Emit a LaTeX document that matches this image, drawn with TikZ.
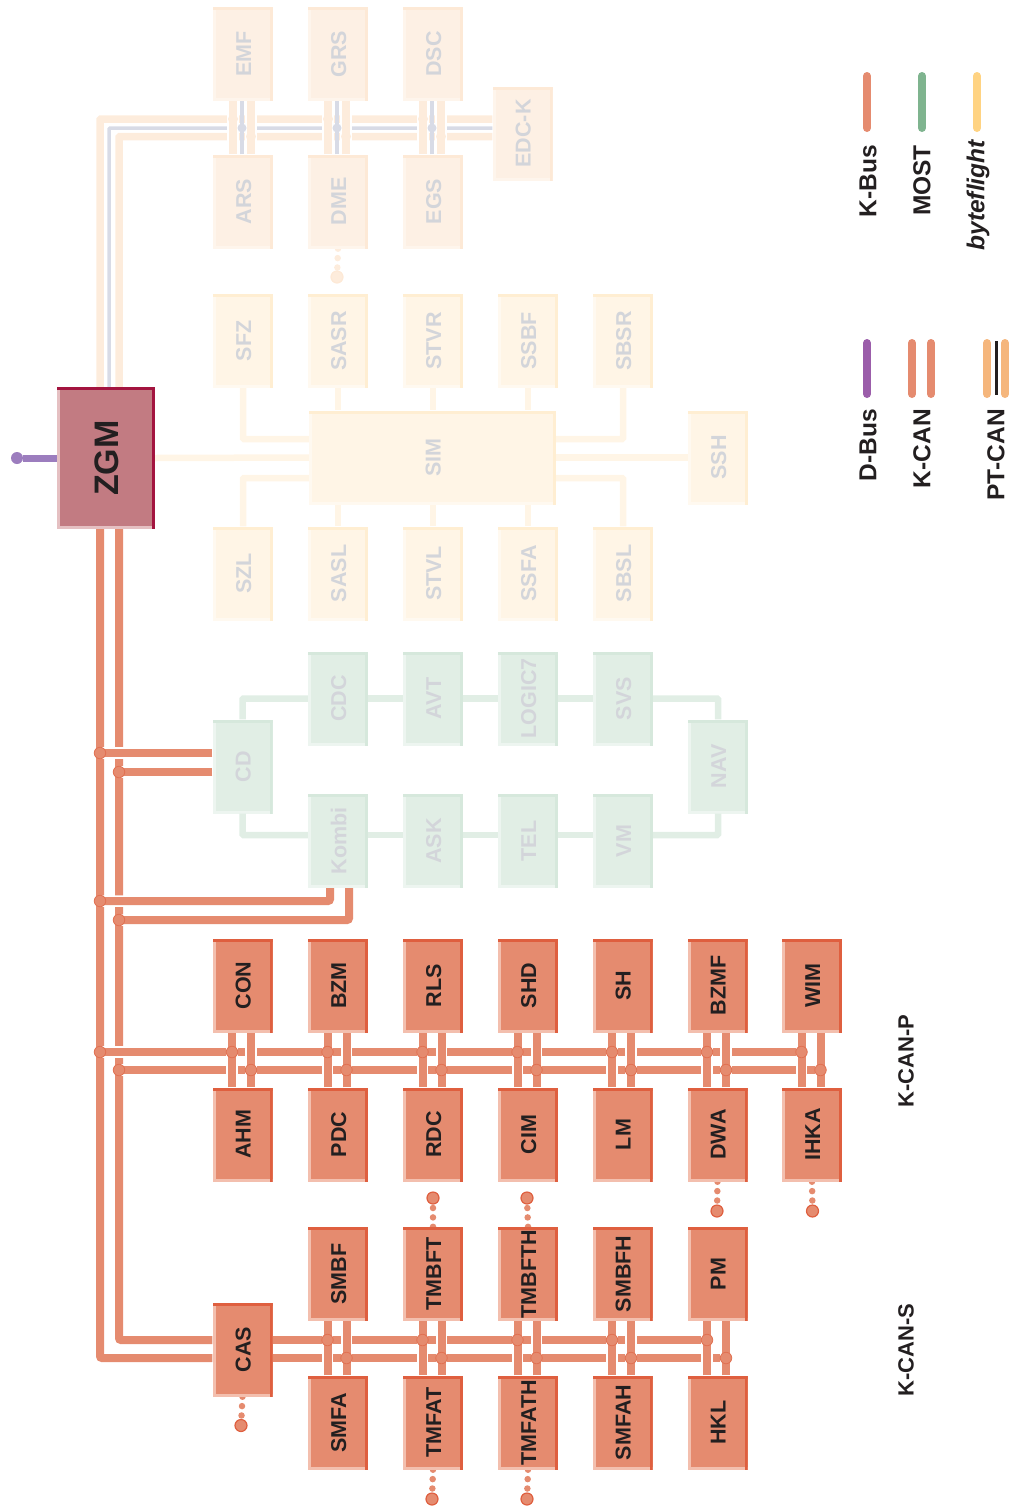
\documentclass[tikz,border=0pt]{standalone}
\usepackage{fontspec}
\setmainfont{Liberation Sans}
\usetikzlibrary{backgrounds}
\definecolor{ink}{HTML}{231F20}
\definecolor{faintink}{HTML}{D3D5DA}
\definecolor{kfill}{HTML}{E58B6F}
\definecolor{kdark}{HTML}{DF5F3F}
\definecolor{klight}{HTML}{F3BFAE}
\definecolor{ptfill}{HTML}{FDF0E4}
\definecolor{ptdark}{HTML}{FDE9D6}
\definecolor{ptlight}{HTML}{FEF5EC}
\definecolor{ptline}{HTML}{FDECDC}
\definecolor{ptwire}{HTML}{D8DBE6}
\definecolor{bffill}{HTML}{FFF5E6}
\definecolor{bfdark}{HTML}{FFEED2}
\definecolor{bflight}{HTML}{FFF9F0}
\definecolor{mfill}{HTML}{E1EEE5}
\definecolor{mdark}{HTML}{D6E8DC}
\definecolor{mlight}{HTML}{EDF5F0}
\definecolor{zfill}{HTML}{C27B82}
\definecolor{zdark}{HTML}{A3143F}
\definecolor{zlight}{HTML}{E5C0C2}
\definecolor{dbus}{HTML}{9C7DBE}
\definecolor{dkey}{HTML}{9B5DAA}
\definecolor{mostkey}{HTML}{7FB48F}
\definecolor{bfkey}{HTML}{FFD382}
\definecolor{ptkey}{HTML}{F5B67C}
\newcommand{\up}[1]{\hspace*{1.5pt}\rotatebox{90}{#1}}
\tikzset{
    unit/.style n args={3}{rectangle, inner sep=0pt, minimum width=60pt,
        minimum height=94pt, fill=#1,
        font=\bfseries\fontsize{21.5pt}{22pt}\selectfont,
        path picture={
            \fill[#3] (path picture bounding box.north west) rectangle
                ([xshift=3pt]path picture bounding box.south west);
            \fill[#3] (path picture bounding box.south west) rectangle
                ([yshift=3pt]path picture bounding box.south east);
            \fill[#2] (path picture bounding box.north west) rectangle
                ([yshift=-3pt]path picture bounding box.north east);
            \fill[#2] ([xshift=-3pt]path picture bounding box.north east) rectangle
                (path picture bounding box.south east);
        }},
    kunit/.style={unit={kfill}{kdark}{klight}, text=ink},
    ptunit/.style={unit={ptfill}{ptdark}{ptlight}, text=faintink},
    bfunit/.style={unit={bffill}{bfdark}{bflight}, text=faintink},
    munit/.style={unit={mfill}{mdark}{mlight}, text=faintink},
    kbus/.style={draw=kfill, line width=8pt, rounded corners=2pt},
    kcross/.style={kbus, preaction={draw=white, line width=11.5pt}},
    ptbus/.style={draw=ptline, line width=7.5pt, rounded corners=1pt},
    ptcross/.style={ptbus, preaction={draw=white, line width=11.5pt}},
    ptthin/.style={draw=ptwire, line width=3.5pt, rounded corners=1pt},
    bfbus/.style={draw=bffill, line width=6.5pt, rounded corners=1pt},
    mbus/.style={draw=mfill, line width=6.5pt, rounded corners=1pt},
    joint/.style={circle, inner sep=0pt, minimum size=11.5pt, fill=kfill, draw=kdark!60!kfill, line width=0.8pt},
    ptjoint/.style={circle, inner sep=0pt, minimum size=10pt, fill=ptline},
    wirejoint/.style={circle, inner sep=0pt, minimum size=9pt, fill=ptwire},
    stubend/.style={circle, inner sep=0pt, minimum size=12pt, fill=kfill, draw=kdark, line width=1.2pt},
    stub/.style={draw=kfill, line width=6.5pt, line cap=round, dash pattern=on 0pt off 9.4pt},
    swatch/.style={line width=8pt, line cap=round},
    busname/.style={rotate=90, anchor=east, font=\bfseries\fontsize{24.5pt}{25pt}\selectfont, text=ink, inner sep=0pt},
    groupname/.style={rotate=90, font=\bfseries\fontsize{22pt}{23pt}\selectfont, text=ink, inner sep=0pt},
}

\begin{document}
\begin{tikzpicture}[x=1pt,y=-1pt]
    \useasboundingbox (0,0) rectangle (1015,1510);

    % central gateway
    \node[unit={zfill}{zdark}{zlight}, minimum width=98pt, minimum height=142pt, text=ink,
        font=\bfseries\fontsize{34pt}{36pt}\selectfont] (ZGM) at (106,458) {\up{ZGM}};
    \node[circle, inner sep=0pt, minimum size=12pt, fill=dbus] (dend) at (17,458) {};
    \draw[draw=dbus, line width=7pt] (ZGM.west) -- (dend);

    % PT-CAN
    \node[ptunit] (EMF) at (243,54) {\up{EMF}};
    \node[ptunit] (ARS) at (243,201.5) {\up{ARS}};
    \node[ptunit] (GRS) at (338,54) {\up{GRS}};
    \node[ptunit] (DME) at (338,201.5) {\up{DME}};
    \node[ptunit] (DSC) at (433,54) {\up{DSC}};
    \node[ptunit] (EGS) at (433,201.5) {\up{EGS}};
    \node[ptunit] (EDCK) at (522.5,133.5) {\up{EDC-K}};
    \node[stubend, fill=ptline, draw=ptdark] (dmeend) at (337,277) {};
    \coordinate (pta) at ([yshift=14.5pt]EDCK.west);
    \coordinate (ptb) at ([yshift=5.5pt]EDCK.west);
    \coordinate (ptc) at ([yshift=-3pt]EDCK.west);
    \draw[ptbus] ([xshift=-6pt]ZGM.north) |- (pta);
    \draw[ptthin] ([xshift=3pt]ZGM.north) |- (ptb);
    \draw[ptbus] ([xshift=13pt]ZGM.north) |- (ptc);
    \foreach \upper/\lower in {EMF/ARS, GRS/DME, DSC/EGS} {
        \draw[ptcross] ([xshift=-10pt]\lower.north) -- ([xshift=-10pt]\upper.south);
        \draw[ptcross] ([xshift=8pt]\lower.north) -- ([xshift=8pt]\upper.south);
        \draw[ptthin] ([xshift=-1pt]\lower.north) -- ([xshift=-1pt]\upper.south);
        \node[ptjoint] (\upper a) at ([xshift=-10pt]\lower.north |- pta) {};
        \node[ptjoint] (\upper c) at ([xshift=8pt]\lower.north |- ptc) {};
        \node[wirejoint] (\upper b) at ([xshift=-1pt]\lower.north |- ptb) {};
    }

    % byteflight
    \node[bfunit] (SFZ) at (243,341) {\up{SFZ}};
    \node[bfunit] (SASR) at (338,341) {\up{SASR}};
    \node[bfunit] (STVR) at (433,341) {\up{STVR}};
    \node[bfunit] (SSBF) at (528,341) {\up{SSBF}};
    \node[bfunit] (SBSR) at (623,341) {\up{SBSR}};
    \node[bfunit, minimum width=247pt] (SIM) at (432.5,457.5) {\up{SIM}};
    \node[bfunit] (SSH) at (718,457.5) {\up{SSH}};
    \node[bfunit] (SZL) at (243,573.5) {\up{SZL}};
    \node[bfunit] (SASL) at (338,573.5) {\up{SASL}};
    \node[bfunit] (STVL) at (433,573.5) {\up{STVL}};
    \node[bfunit] (SSFA) at (528,573.5) {\up{SSFA}};
    \node[bfunit] (SBSL) at (623,573.5) {\up{SBSL}};
    \draw[bfbus] (ZGM.east) -- (SIM.west);
    \draw[bfbus] (SIM.east) -- (SSH.west);
    \draw[bfbus] (SFZ.south) |- ([yshift=18.5pt]SIM.west);
    \draw[bfbus] (SZL.north) |- ([yshift=-20.5pt]SIM.west);
    \draw[bfbus] (SBSR.south) |- ([yshift=18.5pt]SIM.east);
    \draw[bfbus] (SBSL.north) |- ([yshift=-20.5pt]SIM.east);
    \foreach \upper/\lower in {SASR/SASL, STVR/STVL, SSBF/SSFA} {
        \draw[bfbus] (\upper.south) -- (\upper.south |- SIM.north);
        \draw[bfbus] (\lower.north) -- (\lower.north |- SIM.south);
    }

    % MOST
    \node[munit] (CD) at (242.5,766.5) {\up{CD}};
    \node[munit] (CDC) at (338,698.5) {\up{CDC}};
    \node[munit] (AVT) at (433,698.5) {\up{AVT}};
    \node[munit] (LOGIC) at (528,698.5) {\up{LOGIC7}};
    \node[munit] (SVS) at (623,698.5) {\up{SVS}};
    \node[munit] (NAV) at (718,766.5) {\up{NAV}};
    \node[munit] (Kombi) at (338,841) {\up{Kombi}};
    \node[munit] (ASK) at (433,841) {\up{ASK}};
    \node[munit] (TEL) at (528,841) {\up{TEL}};
    \node[munit] (VM) at (623,841) {\up{VM}};
    \draw[mbus] (CD.north) |- (CDC.west);
    \draw[mbus] (CDC.east) -- (AVT.west);
    \draw[mbus] (AVT.east) -- (LOGIC.west);
    \draw[mbus] (LOGIC.east) -- (SVS.west);
    \draw[mbus] (SVS.east) -| (NAV.north);
    \draw[mbus] (NAV.south) |- ([yshift=6pt]VM.east);
    \draw[mbus] ([yshift=6pt]VM.west) -- ([yshift=6pt]TEL.east);
    \draw[mbus] ([yshift=6pt]TEL.west) -- ([yshift=6pt]ASK.east);
    \draw[mbus] ([yshift=6pt]ASK.west) -- ([yshift=6pt]Kombi.east);
    \draw[mbus] ([yshift=6pt]Kombi.west) -| (CD.south);

    % K-CAN-P
    \node[kunit] (CON) at (242.5,985.5) {\up{CON}};
    \node[kunit] (BZM) at (338,985.5) {\up{BZM}};
    \node[kunit] (RLS) at (433,985.5) {\up{RLS}};
    \node[kunit] (SHD) at (528,985.5) {\up{SHD}};
    \node[kunit] (SH) at (622.5,985.5) {\up{SH}};
    \node[kunit] (BZMF) at (717.5,985.5) {\up{BZMF}};
    \node[kunit] (WIM) at (812,985.5) {\up{WIM}};
    \node[kunit] (AHM) at (242.5,1134.5) {\up{AHM}};
    \node[kunit] (PDC) at (338,1134.5) {\up{PDC}};
    \node[kunit] (RDC) at (433,1134.5) {\up{RDC}};
    \node[kunit] (CIM) at (528,1134.5) {\up{CIM}};
    \node[kunit] (LM) at (622.5,1134.5) {\up{LM}};
    \node[kunit] (DWA) at (717.5,1134.5) {\up{DWA}};
    \node[kunit] (IHKA) at (812,1134.5) {\up{IHKA}};

    % K-CAN-S
    \node[kunit] (CAS) at (242.5,1349.5) {\up{CAS}};
    \node[kunit] (SMBF) at (338,1274) {\up{SMBF}};
    \node[kunit] (TMBFT) at (433,1274) {\up{TMBFT}};
    \node[kunit] (TMBFTH) at (528,1274) {\up{TMBFTH}};
    \node[kunit] (SMBFH) at (622.5,1274) {\up{SMBFH}};
    \node[kunit] (PM) at (717.5,1274) {\up{PM}};
    \node[kunit] (SMFA) at (338,1422.5) {\up{SMFA}};
    \node[kunit] (TMFAT) at (433,1422.5) {\up{TMFAT}};
    \node[kunit] (TMFATH) at (528,1422.5) {\up{TMFATH}};
    \node[kunit] (SMFAH) at (622.5,1422.5) {\up{SMFAH}};
    \node[kunit] (HKL) at (717.5,1422.5) {\up{HKL}};

    % main K-CAN pair
    \coordinate (sa) at ([yshift=9.5pt]CAS.east);
    \coordinate (sb) at ([yshift=-8.5pt]CAS.east);
    \coordinate (pa) at (100,1052);
    \coordinate (pb) at (119,1070);
    \coordinate (cda) at ([yshift=13.5pt]CD.west);
    \coordinate (cdb) at ([yshift=-5.5pt]CD.west);
    \coordinate (koa) at (100,901);
    \coordinate (kob) at (119,920);
    \draw[kbus] ([xshift=-6pt]ZGM.south) |- ([yshift=-8.5pt]CAS.west);
    \draw[kbus] ([xshift=13pt]ZGM.south) |- ([yshift=9.5pt]CAS.west);
    \draw[kcross] (cda) -- (cda -| pa);
    \draw[kcross] (cdb) -- (cdb -| pb);
    \draw[kcross] ([xshift=-8pt]Kombi.south) |- (koa);
    \draw[kcross] ([xshift=11pt]Kombi.south) |- (kob);
    \draw[kcross] (pa) -- ([xshift=-10.5pt]IHKA.north |- pa);
    \draw[kcross] (pb) -- ([xshift=8.5pt]IHKA.north |- pb);
    \draw[kbus] (sa) -- ([xshift=-10.5pt]HKL.north |- sa);
    \draw[kbus] (sb) -- ([xshift=8.5pt]HKL.north |- sb);
    \node[joint] (jcda) at (cda -| pa) {};
    \node[joint] (jcdb) at (cdb -| pb) {};
    \node[joint] (jkoa) at (koa) {};
    \node[joint] (jkob) at (kob) {};
    \node[joint] (jpa) at (pa) {};
    \node[joint] (jpb) at (pb) {};
    \foreach \upper/\lower in {CON/AHM, BZM/PDC, RLS/RDC, SHD/CIM, SH/LM, BZMF/DWA, WIM/IHKA} {
        \draw[kcross] ([xshift=-10.5pt]\lower.north) -- ([xshift=-10.5pt]\upper.south);
        \draw[kcross] ([xshift=8.5pt]\lower.north) -- ([xshift=8.5pt]\upper.south);
        \node[joint] (\lower a) at ([xshift=-10.5pt]\lower.north |- pa) {};
        \node[joint] (\lower b) at ([xshift=8.5pt]\lower.north |- pb) {};
    }
    \foreach \upper/\lower in {SMBF/SMFA, TMBFT/TMFAT, TMBFTH/TMFATH, SMBFH/SMFAH, PM/HKL} {
        \draw[kcross] ([xshift=-10.5pt]\lower.north) -- ([xshift=-10.5pt]\upper.south);
        \draw[kcross] ([xshift=8.5pt]\lower.north) -- ([xshift=8.5pt]\upper.south);
        \node[joint] (\lower a) at ([xshift=-10.5pt]\lower.north |- sa) {};
        \node[joint] (\lower b) at ([xshift=8.5pt]\lower.north |- sb) {};
    }

    % open ends
    \node[stubend] (casend) at (241,1425.5) {};
    \node[stubend] (tbtend) at (433,1198) {};
    \node[stubend] (tbhend) at (527,1198) {};
    \node[stubend] (dwaend) at (717,1211) {};
    \node[stubend] (ihkend) at (812.5,1211) {};
    \node[stubend] (tftend) at (432,1499) {};
    \node[stubend] (tfhend) at (527,1499) {};
    \begin{scope}[on background layer]
        \draw[stub, draw=ptline] (DME.south) -- (dmeend);
        \draw[stub] (CAS.south) -- (casend);
        \draw[stub] (TMBFT.north) -- (tbtend);
        \draw[stub] (TMBFTH.north) -- (tbhend);
        \draw[stub] (DWA.south) -- (dwaend);
        \draw[stub] (IHKA.south) -- (ihkend);
        \draw[stub] (TMFAT.south) -- (tftend);
        \draw[stub] (TMFATH.south) -- (tfhend);
    \end{scope}

    % bus groups and legend
    \node[groupname] (kcanp) at (906,1061) {K-CAN-P};
    \node[groupname] (kcans) at (906,1350) {K-CAN-S};
    \draw[swatch, draw=kfill] (867,76) -- (867,128);
    \draw[swatch, draw=mostkey] (922,76) -- (922,128);
    \draw[swatch, draw=bfkey] (977,76) -- (977,128);
    \draw[swatch, draw=dkey] (867,343) -- (867,394);
    \draw[swatch, draw=kfill] (912,343) -- (912,394);
    \draw[swatch, draw=kfill] (931,343) -- (931,394);
    \draw[swatch, draw=ptkey] (987,343) -- (987,394);
    \draw[swatch, draw=ptkey] (1005,343) -- (1005,394);
    \draw[line width=3pt, draw=ink] (996,341) -- (996,395);
    \node[busname] (kbusname) at (868,145) {K-Bus};
    \node[busname] (mostname) at (922,145) {MOST};
    \node[busname, font=\bfseries\itshape\fontsize{24.5pt}{25pt}\selectfont] (bfname) at (978,140) {byteflight};
    \node[busname] (dbusname) at (868,409) {D-Bus};
    \node[busname] (kcanname) at (922,409) {K-CAN};
    \node[busname] (ptcanname) at (996,409) {PT-CAN};
\end{tikzpicture}
\end{document}
